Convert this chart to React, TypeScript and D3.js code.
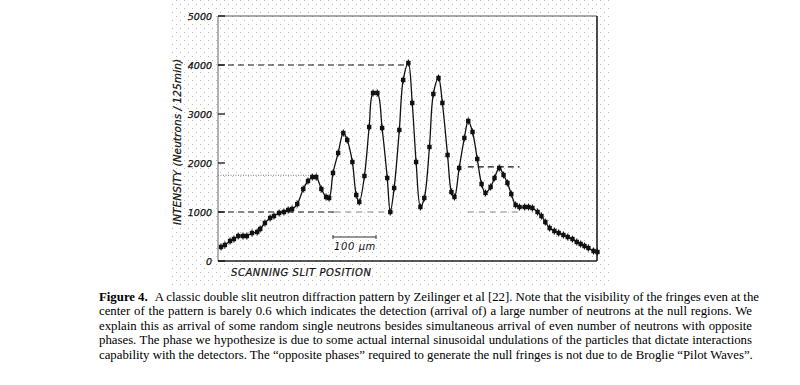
import React, { useEffect, useRef } from 'react';
import * as d3 from 'd3';

const positions = [
  7, 16, 28, 37, 47, 58, 67, 79, 91, 98, 109, 121, 130, 142, 153, 163, 172, 184, 198, 209,
  219, 228, 240, 251, 258, 267, 279, 291, 300, 312, 321, 328, 340, 351, 360, 370, 381, 393, 400, 409,
  421, 430, 442, 451, 460, 470, 479, 491, 500, 512, 521, 533, 542, 549, 560, 572, 581, 591, 602, 612,
  621, 633, 642, 653, 663, 672, 681, 691, 700, 712, 721, 730, 742, 751, 760, 770, 781, 791, 802, 812,
  823, 833, 842, 851, 860, 872, 881,
];
const counts = [
  286, 327, 408, 449, 510, 510, 510, 571, 592, 653, 776, 878, 918, 980, 1000, 1041, 1061, 1163, 1469, 1633,
  1714, 1714, 1469, 1306, 1286, 1796, 2204, 2612, 2470, 2020, 1347, 1204, 1735, 2735, 3429, 3429, 2714, 1694, 1000, 1490,
  2674, 3694, 4041, 3225, 2020, 1102, 1286, 2327, 3408, 3735, 3225, 2163, 1408, 1306, 1898, 2510, 2857, 2633, 2082, 1571,
  1388, 1510, 1694, 1898, 1755, 1592, 1367, 1143, 1102, 1102, 1102, 1082, 1000, 918, 796, 673, 612, 571, 531, 490,
  449, 388, 347, 306, 265, 204, 184,
];
const errorBar = 70;

const yTicks = [0, 1000, 2000, 3000, 4000, 5000];
const xDomain = [0, 880];
const yDomain = [0, 5000];

// reference levels drawn on the figure: [level, from μm, to μm, style]
const refLines: [number, number, number, string][] = [
  [4000, 0, 436, 'dash'],
  [1000, 0, 270, 'dash'],
  [1000, 270, 408, 'light'],
  [1000, 580, 700, 'light'],
  [1750, 0, 217, 'dot'],
  [1920, 580, 700, 'dash'],
];
const scaleBarStart = 267;
const scaleBarLength = 100;

const captionLines = [
  'A classic double slit neutron diffraction pattern by Zeilinger et al [22]. Note that the visibility of the fringes even at the',
  'center of the pattern is barely 0.6 which indicates the detection (arrival of) a large number of neutrons at the null regions. We',
  'explain this as arrival of some random single neutrons besides simultaneous arrival of even number of neutrons with opposite',
  'phases. The phase we hypothesize is due to some actual internal sinusoidal undulations of the particles that dictate interactions',
  'capability with the detectors. The \u201Copposite phases\u201D required to generate the null fringes is not due to de Broglie \u201CPilot Waves\u201D.',
];

const App: React.FC = () => {
  const svgRef = useRef<SVGSVGElement | null>(null);

  useEffect(() => {
    if (!svgRef.current) return;
    const svg = d3.select(svgRef.current);
    svg.selectAll('*').remove();

    const margin = { top: 16, left: 218, right: 203, bottom: 124 };
    const width = 800;
    const height = 385;

    const x = d3.scaleLinear().domain(xDomain).range([margin.left, width - margin.right]);
    const y = d3.scaleLinear().domain(yDomain).range([height - margin.bottom, margin.top]);

    const sans = '"DejaVu Sans", sans-serif';

    // dotted paper background
    const defs = svg.append('defs');
    const pat = defs.append('pattern')
      .attr('id', 'dots')
      .attr('width', 8)
      .attr('height', 8)
      .attr('patternUnits', 'userSpaceOnUse');
    pat.append('rect').attr('x', 0).attr('y', 0).attr('width', 1).attr('height', 1).attr('fill', '#b8b8b8');
    pat.append('rect').attr('x', 4).attr('y', 4).attr('width', 1).attr('height', 1).attr('fill', '#b8b8b8');
    svg.append('rect')
      .attr('x', 172).attr('y', 0)
      .attr('width', 438).attr('height', 286)
      .attr('fill', 'url(#dots)');

    const [x0, x1] = x.range();
    const [yb, yt] = y.range();

    // frame
    svg.append('line').attr('x1', x0).attr('x2', x0).attr('y1', yt).attr('y2', yb)
      .attr('stroke', '#666').attr('stroke-width', 1);
    svg.append('line').attr('x1', x0).attr('x2', x1).attr('y1', yt).attr('y2', yt)
      .attr('stroke', '#555').attr('stroke-width', 1.2);
    svg.append('line').attr('x1', x1).attr('x2', x1).attr('y1', yt).attr('y2', yb)
      .attr('stroke', '#000').attr('stroke-width', 1.4);
    svg.append('line').attr('x1', x0).attr('x2', x1).attr('y1', yb).attr('y2', yb)
      .attr('stroke', '#222').attr('stroke-width', 1.4);

    // y ticks
    const ticks = svg.append('g');
    ticks.selectAll('line')
      .data(yTicks)
      .enter()
      .append('line')
      .attr('x1', x0).attr('x2', x0 + 7)
      .attr('y1', d => y(d)).attr('y2', d => y(d))
      .attr('stroke', '#111').attr('stroke-width', 1.3);
    ticks.selectAll('text')
      .data(yTicks)
      .enter()
      .append('text')
      .attr('x', x0 - 6)
      .attr('y', d => y(d) + 3.5)
      .attr('text-anchor', 'end')
      .attr('font-family', sans)
      .attr('font-style', 'italic')
      .attr('font-size', 9.5)
      .attr('stroke', '#111')
      .attr('stroke-width', 0.25)
      .attr('fill', '#111')
      .text(d => String(d));

    // reference lines
    refLines.forEach(([lvl, a, b, style]) => {
      const l = svg.append('line')
        .attr('x1', x(a)).attr('x2', x(b))
        .attr('y1', y(lvl)).attr('y2', y(lvl));
      if (style === 'dash') {
        l.attr('stroke', '#111').attr('stroke-width', 1.2).attr('stroke-dasharray', '6 4');
      } else if (style === 'light') {
        l.attr('stroke', '#777').attr('stroke-width', 0.9).attr('stroke-dasharray', '6 5');
      } else {
        l.attr('stroke', '#666').attr('stroke-width', 0.9).attr('stroke-dasharray', '1 1.5');
      }
    });

    // fitted curve
    const pts = positions.map((p, i) => [p, counts[i]] as [number, number]);
    const line = d3.line<[number, number]>()
      .x(d => x(d[0]))
      .y(d => y(d[1]))
      .curve(d3.curveCatmullRom.alpha(0.5));
    svg.append('path')
      .datum(pts)
      .attr('fill', 'none')
      .attr('stroke', '#111')
      .attr('stroke-width', 1.3)
      .attr('d', line);

    // data points with error bars
    const marks = svg.append('g');
    marks.selectAll('line')
      .data(pts)
      .enter()
      .append('line')
      .attr('x1', d => x(d[0])).attr('x2', d => x(d[0]))
      .attr('y1', d => y(d[1] - errorBar)).attr('y2', d => y(d[1] + errorBar))
      .attr('stroke', '#111').attr('stroke-width', 1.1);
    marks.selectAll('rect')
      .data(pts)
      .enter()
      .append('rect')
      .attr('x', d => x(d[0]) - 2.2)
      .attr('y', d => y(d[1]) - 2.2)
      .attr('width', 4.4).attr('height', 4.4)
      .attr('fill', '#111');

    // scale bar
    const sbY = 237;
    const sb = svg.append('g').attr('stroke', '#333').attr('stroke-width', 1);
    sb.append('line').attr('x1', x(scaleBarStart)).attr('x2', x(scaleBarStart + scaleBarLength))
      .attr('y1', sbY).attr('y2', sbY);
    sb.append('line').attr('x1', x(scaleBarStart)).attr('x2', x(scaleBarStart))
      .attr('y1', sbY - 2).attr('y2', sbY + 2);
    sb.append('line').attr('x1', x(scaleBarStart + scaleBarLength)).attr('x2', x(scaleBarStart + scaleBarLength))
      .attr('y1', sbY - 2).attr('y2', sbY + 2);
    svg.append('text')
      .attr('x', x(scaleBarStart) + 1)
      .attr('y', sbY + 13)
      .attr('font-family', sans)
      .attr('font-style', 'italic')
      .attr('font-size', 10)
      .attr('letter-spacing', 0.6)
      .attr('fill', '#111')
      .text('100 \u03BCm');

    // axis titles
    svg.append('text')
      .attr('transform', `translate(181,${142}) rotate(-90)`)
      .attr('text-anchor', 'middle')
      .attr('font-family', sans)
      .attr('font-style', 'italic')
      .attr('font-size', 10.5)
      .attr('textLength', 166)
      .attr('lengthAdjust', 'spacing')
      .attr('stroke', '#111')
      .attr('stroke-width', 0.2)
      .attr('fill', '#111')
      .text('INTENSITY  (Neutrons / 125min)');
    svg.append('text')
      .attr('x', 231)
      .attr('y', 276)
      .attr('font-family', sans)
      .attr('font-style', 'italic')
      .attr('font-size', 10)
      .attr('textLength', 140)
      .attr('lengthAdjust', 'spacing')
      .attr('stroke', '#111')
      .attr('stroke-width', 0.2)
      .attr('fill', '#111')
      .text('SCANNING SLIT POSITION');

    // caption, justified
    const capX = 99;
    const capW = 653;
    const cap = svg.append('g')
      .attr('font-family', '"Liberation Serif", "Times New Roman", serif')
      .attr('font-size', 12.8)
      .attr('fill', '#000');
    captionLines.forEach((txt, i) => {
      const t = cap.append('text')
        .attr('x', capX)
        .attr('y', 301 + i * 14.4);
      if (i === 0) {
        t.append('tspan').attr('font-weight', 'bold').text('Figure 4.');
        t.append('tspan').attr('dx', 7).text(txt);
      } else {
        t.text(txt);
      }
      if (i < captionLines.length - 1) {
        const node = t.node() as SVGTextElement;
        const w = node.getComputedTextLength();
        const spaces = (i === 0 ? txt.split(' ').length : txt.split(' ').length - 1);
        if (spaces > 0) t.attr('word-spacing', (capW - w) / spaces);
      }
    });
  }, []);

  return (
    <svg
      ref={svgRef}
      width={800}
      height={385}
      style={{ position: 'absolute', left: 0, top: 0, background: '#fff', display: 'block' }}
    />
  );
};

export default App;
